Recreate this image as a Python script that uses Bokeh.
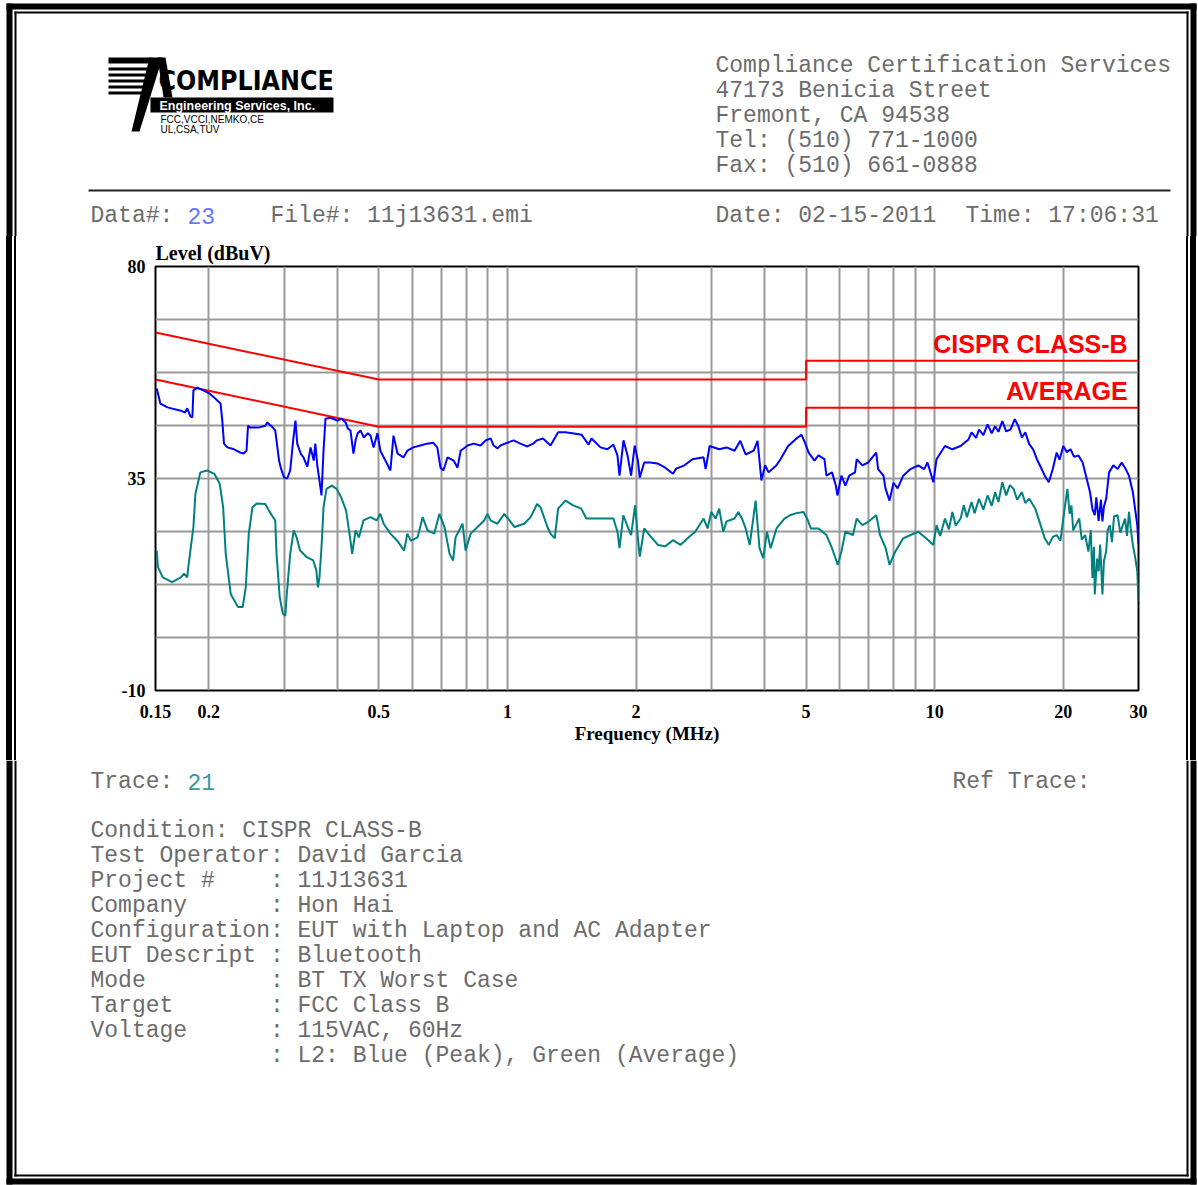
from bokeh.plotting import figure
from bokeh.models import FixedTicker, Label, Range1d, Div
from bokeh.layouts import column, row
from bokeh.core.properties import value
from bokeh.embed import file_html
from bokeh.resources import INLINE

# ---------------- data ----------------
peak_freq_lf = [0.151, 0.154, 0.160, 0.172, 0.176, 0.178, 0.181, 0.183, 0.184, 0.188, 0.194, 0.201, 0.207, 0.213,
                0.215, 0.217, 0.221, 0.229, 0.237, 0.241, 0.245, 0.247, 0.250, 0.261, 0.271, 0.274, 0.281, 0.286,
                0.289, 0.292, 0.295, 0.300, 0.305, 0.310, 0.315, 0.319, 0.322, 0.328, 0.333, 0.340, 0.346, 0.352,
                0.355, 0.359, 0.363, 0.367, 0.371, 0.375, 0.385, 0.400, 0.409, 0.418, 0.423, 0.429, 0.436, 0.441,
                0.446, 0.453, 0.461, 0.471, 0.478, 0.486, 0.496, 0.504, 0.518, 0.532, 0.541, 0.553, 0.571, 0.583,
                0.602, 0.625, 0.649, 0.670, 0.685, 0.697, 0.708, 0.724, 0.748, 0.764, 0.777, 0.807, 0.833, 0.865,
                0.889, 0.913, 0.928, 0.948, 0.963, 1.000, 1.033, 1.072, 1.113, 1.148, 1.172, 1.211, 1.261, 1.314,
                1.367, 1.443, 1.490, 1.518, 1.548, 1.573, 1.651, 1.714, 1.770, 1.809, 1.829, 1.869, 1.910, 1.947,
                1.985, 2.02, 2.04, 2.09, 2.157, 2.244, 2.34, 2.44, 2.483, 2.596, 2.71, 2.878, 2.91, 2.973, 3.13,
                3.257, 3.40, 3.507, 3.61, 3.77, 3.85, 3.93, 4.01, 4.085, 4.263, 4.355, 4.54, 4.72, 4.875, 4.97,
                5.07, 5.23, 5.345, 5.52, 5.58, 5.75, 5.87, 5.92, 6.05, 6.18, 6.31, 6.51, 6.57, 6.77, 6.99, 7.30,
                7.37, 7.59, 7.67, 7.84, 8.01, 8.19, 8.44, 8.78, 9.15, 9.45, 9.62, 9.93]
peak_level_lf = [54.1, 50.9, 50.1, 49.4, 49.0, 49.9, 48.2, 48.0, 53.7, 54.3, 53.7, 53.0, 52.0, 50.9,
                 47.3, 42.4, 41.6, 41.2, 40.5, 40.3, 40.9, 46.2, 45.8, 45.8, 46.2, 46.9, 46.0, 45.2,
                 42.0, 38.8, 37.1, 35.2, 35.0, 36.7, 43.1, 47.3, 42.4, 40.3, 39.5, 37.5, 41.6, 38.8,
                 42.4, 37.5, 34.6, 31.4, 40.9, 47.7, 47.9, 47.3, 47.7, 46.9, 45.6, 45.2, 40.3, 43.1,
                 44.6, 45.2, 43.7, 44.6, 44.1, 41.6, 44.6, 40.9, 38.8, 36.7, 44.1, 40.3, 39.5, 40.9,
                 41.6, 42.0, 42.4, 42.6, 41.6, 37.3, 36.7, 39.5, 38.8, 37.3, 40.9, 42.0, 42.4, 42.0,
                 43.1, 43.5, 42.0, 41.4, 42.0, 42.6, 43.1, 42.4, 41.8, 42.4, 43.1, 43.5, 42.0, 44.8,
                 44.8, 44.5, 44.3, 43.3, 42.2, 43.5, 41.6, 41.2, 42.2, 39.9, 35.6, 43.1, 39.9, 35.6,
                 42.0, 38.8, 35.2, 38.4, 38.4, 38.2, 37.3, 36.0, 37.1, 37.8, 39.1, 39.5, 37.0, 41.9, 41.2,
                 41.6, 40.9, 43.0, 40.1, 40.9, 43.0, 34.6, 37.8, 36.3, 37.8, 39.1, 41.9, 43.3, 44.3, 42.6,
                 40.5, 38.8, 39.9, 39.1, 35.6, 36.3, 33.5, 31.4, 35.6, 33.5, 35.6, 36.3, 39.1, 37.8, 38.4, 40.5,
                 37.0, 35.6, 32.9, 30.3, 34.1, 32.9, 35.6, 37.0, 37.8, 37.0, 38.4, 34.2]
peak_freq_hf = [10.1, 10.57, 11.0, 11.5, 12.0, 12.2, 12.5, 12.7, 13.0, 13.3, 13.6, 13.85, 14.1, 14.4, 14.7,
                15.05, 15.4, 15.7, 16.0, 16.3, 16.65, 17.0, 17.35, 17.7, 18.1, 18.5, 18.9, 19.3, 19.6, 20.0,
                20.4, 20.8, 21.2, 21.7, 22.2, 22.6, 23.1, 23.4, 23.7, 23.9, 24.2, 24.5, 24.7, 24.9, 25.2,
                25.6, 26.2, 26.8, 27.4, 28.0, 28.5, 29.1, 29.8, 30.0]
peak_level_hf = [39.1, 41.9, 41.2, 41.9, 43.3, 44.8, 43.6, 45.4, 44.2, 46.5, 44.6, 46.1, 44.9, 47.2, 45.0,
                 45.4, 47.6, 46.1, 43.7, 44.8, 42.3, 41.2, 39.1, 37.5, 35.6, 34.2, 37.0, 40.5, 39.0, 41.9,
                 40.6, 41.2, 39.6, 39.9, 38.4, 35.6, 32.1, 28.5, 27.2, 31.0, 26.0, 30.5, 25.9, 29.0, 30.7,
                 36.3, 37.8, 37.0, 38.4, 37.0, 35.6, 32.1, 25.1, 21.0]

avg_freq_lf = [0.151, 0.152, 0.156, 0.164, 0.172, 0.175, 0.178, 0.179, 0.184, 0.186, 0.191, 0.198, 0.206, 0.212,
               0.216, 0.219, 0.225, 0.234, 0.240, 0.244, 0.248, 0.253, 0.259, 0.271, 0.278, 0.286, 0.288, 0.293,
               0.298, 0.302, 0.304, 0.310, 0.316, 0.321, 0.327, 0.339, 0.351, 0.357, 0.360, 0.363, 0.367, 0.371,
               0.377, 0.388, 0.398, 0.408, 0.419, 0.429, 0.433, 0.441, 0.449, 0.460, 0.478, 0.494, 0.504, 0.513,
               0.532, 0.552, 0.573, 0.583, 0.594, 0.616, 0.633, 0.650, 0.674, 0.693, 0.712, 0.732, 0.746, 0.756,
               0.785, 0.798, 0.820, 0.851, 0.882, 0.898, 0.913, 0.947, 0.983, 1.011, 1.039, 1.094, 1.133, 1.173,
               1.195, 1.240, 1.261, 1.290, 1.314, 1.367, 1.425, 1.488, 1.530, 1.616, 1.680, 1.770, 1.809, 1.829,
               1.867, 1.905, 1.947, 1.990, 2.02, 2.04, 2.09, 2.15, 2.25, 2.34, 2.44, 2.54, 2.64, 2.75, 2.88, 2.94,
               3.00, 3.07, 3.13, 3.20, 3.257, 3.40, 3.47, 3.54, 3.61, 3.69, 3.81, 3.89, 3.97, 4.05, 4.13, 4.263,
               4.45, 4.59, 4.72, 4.93, 5.03, 5.13, 5.345, 5.58, 5.75, 5.93, 6.05, 6.18, 6.44, 6.57, 6.77, 6.99,
               7.30, 7.45, 7.68, 7.84, 8.09, 8.44, 8.78, 9.15, 9.55, 9.93]
avg_level_lf = [19.7, 16.2, 14.0, 13.0, 14.0, 14.8, 14.0, 16.2, 24.7, 31.7, 36.3, 36.7, 36.0, 33.9,
                28.9, 19.0, 10.5, 7.7, 7.7, 11.9, 23.3, 28.9, 29.7, 29.6, 27.8, 26.1, 19.0, 9.8,
                6.3, 5.9, 9.8, 19.0, 24.0, 22.5, 19.7, 18.3, 17.6, 15.5, 11.9, 14.0, 20.4, 28.9,
                32.8, 33.5, 32.8, 31.0, 28.2, 21.8, 19.0, 24.0, 22.5, 26.1, 26.8, 26.1, 27.5, 25.4,
                23.3, 21.8, 19.7, 23.3, 21.8, 22.5, 26.8, 24.0, 23.3, 27.5, 24.7, 19.0, 17.6, 22.5,
                25.4, 19.7, 23.3, 24.7, 26.1, 27.5, 26.1, 25.4, 27.5, 26.1, 24.7, 25.4, 26.8, 29.6,
                28.9, 24.7, 23.3, 22.3, 28.6, 30.3, 29.3, 28.6, 26.5, 26.5, 26.5, 26.5, 23.7, 20.2,
                27.2, 25.1, 23.0, 29.3, 22.3, 18.4, 24.4, 23.0, 20.9, 20.6, 21.9, 20.9, 22.3, 23.7, 26.5, 24.4,
                27.9, 26.5, 28.6, 23.7, 25.9, 26.5, 27.9, 26.5, 24.4, 20.9, 30.3, 20.2, 18.1, 23.7, 20.2, 24.4,
                26.5, 27.2, 27.6, 27.9, 26.5, 24.4, 24.4, 23.0, 20.2, 16.7, 19.5, 23.7, 23.0, 26.5, 25.1, 25.8,
                27.2, 23.0, 20.2, 16.7, 19.5, 22.3, 23.0, 23.7, 22.3, 20.9]
avg_freq_hf = [10.1, 10.3, 10.57, 10.8, 11.0, 11.2, 11.5, 11.7, 11.9, 12.2, 12.4, 12.7, 13.0, 13.3, 13.6,
               13.85, 14.1, 14.4, 14.7, 15.0, 15.3, 15.6, 16.0, 16.3, 16.65, 17.2, 17.7, 18.1, 18.5, 18.9,
               19.3, 19.7, 20.0, 20.45, 20.7, 20.9, 21.1, 21.4, 21.8, 22.1, 22.5, 22.9, 23.2, 23.4, 23.6,
               23.7, 24.0, 24.2, 24.4, 24.7, 24.9, 25.2, 25.4, 25.7, 26.0, 26.3, 26.8, 27.2, 27.9, 28.2,
               28.5, 28.8, 29.1, 29.5, 29.8, 30.0]
avg_level_hf = [25.1, 22.8, 26.5, 24.2, 27.9, 25.0, 26.5, 29.3, 26.8, 30.0, 27.6, 30.7, 28.4, 31.4, 29.2,
                32.1, 30.0, 34.2, 31.4, 33.6, 32.8, 30.5, 32.1, 29.8, 30.7, 28.6, 25.1, 22.3, 20.9, 22.6,
                23.0, 21.8, 26.5, 32.8, 27.5, 29.3, 24.0, 25.1, 26.5, 22.0, 23.0, 19.5, 24.0, 13.9, 20.5,
                10.4, 18.0, 15.3, 21.0, 10.4, 17.5, 19.5, 24.0, 25.1, 21.5, 27.0, 27.2, 23.5, 26.5, 22.8,
                27.9, 24.0, 20.9, 18.0, 15.3, 9.0]

qp_limit_freq = [0.15, 0.5, 5.0, 5.0, 30.0]
qp_limit_level = [66.0, 56.0, 56.0, 60.0, 60.0]
av_limit_freq = [0.15, 0.5, 5.0, 5.0, 30.0]
av_limit_level = [56.0, 46.0, 46.0, 50.0, 50.0]

x_tick_values = [0.15, 0.2, 0.5, 1, 2, 5, 10, 20, 30]
x_tick_labels = ["0.15", "0.2", "0.5", "1", "2", "5", "10", "20", "30"]
x_grid_values = [0.2, 0.3, 0.4, 0.5, 0.6, 0.7, 0.8, 0.9, 1, 2, 3, 4, 5, 6, 7, 8, 9, 10, 20]
y_tick_values = [-10, 35, 80]
y_tick_labels = ["-10", "35", "80"]
y_grid_values = [-10, 1.25, 12.5, 23.75, 35, 46.25, 57.5, 68.75, 80]

header_lines = ["Compliance Certification Services", "47173 Benicia Street", "Fremont, CA 94538",
                "Tel: (510) 771-1000", "Fax: (510) 661-0888"]
info_keys = ["Condition:", "Test Operator:", "Project #", "Company", "Configuration", "EUT Descript",
             "Mode", "Target", "Voltage", ""]
info_values = ["CISPR CLASS-B", "David Garcia", "11J13631", "Hon Hai", "EUT with Laptop and AC Adapter",
               "Bluetooth", "BT TX Worst Case", "FCC Class B", "115VAC, 60Hz", "L2: Blue (Peak), Green (Average)"]

peak_freq = peak_freq_lf + peak_freq_hf
peak_level = peak_level_lf + peak_level_hf
avg_freq = avg_freq_lf + avg_freq_hf
avg_level = avg_level_lf + avg_level_hf

# ---------------- layout constants (page pixels) ----------------
PW, PH = 1198, 1185
HEAD_H = 236
MAIN_TOP, MAIN_BOT = 236, 760
STRIP_L, STRIP_R = 20, 20
MONO = "Liberation Mono"
GRAY = "#6c6c6c"


def page_fig(w, h, x0, x1, y0, y1):
    f = figure(width=w, height=h, x_range=Range1d(x0, x1), y_range=Range1d(y1, y0),
               output_backend="svg", toolbar_location=None,
               x_axis_location=None, y_axis_location=None, min_border=0)
    f.grid.visible = False
    f.outline_line_color = None
    f.background_fill_color = "white"
    f.border_fill_color = "white"
    return f


def rect(f, l, r, t, b, color="black"):
    f.quad(left=[l], right=[r], top=[t], bottom=[b], fill_color=color, line_color=None)


def txt(f, x, y, s, size="23px", color=GRAY, font=MONO, style="normal", align="left"):
    f.text(x=[x], y=[y], text=[s], text_font=value(font), text_font_size=value(size),
           text_color=color, text_font_style=style, text_align=align, text_baseline="middle")


def side_borders(f, y0, y1, thin_y0, thin_y1):
    rect(f, 6, 12, y0, y1)
    rect(f, 14, 16, thin_y0, thin_y1)
    rect(f, 1190, 1196, y0, y1)
    rect(f, 1186, 1188, thin_y0, thin_y1)


# ---------------- header ----------------
head = page_fig(PW, HEAD_H, 0, PW, 0, HEAD_H)
rect(head, 6, 1196, 3, 9)
rect(head, 14, 1188, 11, 13)
side_borders(head, 3, HEAD_H, 11, HEAD_H)

# logo
for (t, b, r) in [(57, 63, 152), (67, 70, 149), (73, 76, 147), (79, 82, 145), (85, 88, 143), (91, 94, 141)]:
    rect(head, 108, r, t, b)
head.patch([149, 162, 139, 131], [57, 57, 131, 131], fill_color="black", line_color=None)
head.patch([157, 165, 172, 163], [57, 57, 97, 97], fill_color="black", line_color=None)
rect(head, 150, 333, 97, 112)
txt(head, 159, 105, "Engineering Services, Inc.", size="12.5px", color="white", font="Liberation Sans", style="bold")
txt(head, 158, 80, "COMPLIANCE", size="26.5px", color="black",
    font="'Liberation Sans Narrow', 'DejaVu Sans Condensed', sans-serif", style="bold")
txt(head, 160, 119, "FCC,VCCI,NEMKO,CE", size="10px", color="black", font="Liberation Sans")
txt(head, 160, 129, "UL,CSA,TUV", size="10px", color="black", font="Liberation Sans")

for i, s in enumerate(header_lines):
    txt(head, 715, 65 + 25 * i, s)
rect(head, 88, 1170, 189, 191, color="#222222")
txt(head, 90, 215, "Data#:")
txt(head, 187, 215, "23", color="#6478f2")
txt(head, 270, 215, "File#: 11j13631.emi")
txt(head, 715, 215, "Date: 02-15-2011")
txt(head, 965, 215, "Time: 17:06:31")

# ---------------- main chart ----------------
MH = MAIN_BOT - MAIN_TOP
MW = PW - STRIP_L - STRIP_R
p = figure(width=MW, height=MH, x_axis_type="log", x_range=Range1d(0.15, 30), y_range=Range1d(-10, 80),
           output_backend="svg", toolbar_location=None,
           min_border_left=155 - STRIP_L, min_border_right=(PW - STRIP_R) - 1138,
           min_border_top=266 - MAIN_TOP, min_border_bottom=MAIN_BOT - 690)
p.background_fill_color = "white"
p.border_fill_color = "white"
p.outline_line_color = "black"
p.outline_line_width = 2

p.title.text = "Level (dBuV)"
p.title.text_font = "Liberation Serif"
p.title.text_font_style = "bold"
p.title.text_font_size = "20px"
p.title.text_color = "black"
p.title.align = "left"
p.title.standoff = 5

GRID = "#9a9a9a"
p.xgrid.ticker = FixedTicker(ticks=x_grid_values)
p.ygrid.ticker = FixedTicker(ticks=y_grid_values)
for g in (p.xgrid, p.ygrid):
    g.grid_line_color = GRID
    g.grid_line_width = 2
    g.minor_grid_line_color = None

p.xaxis.ticker = FixedTicker(ticks=x_tick_values)
p.xaxis.major_label_overrides = dict(zip(x_tick_values, x_tick_labels))
p.yaxis.ticker = FixedTicker(ticks=y_tick_values)
p.yaxis.major_label_overrides = dict(zip(y_tick_values, y_tick_labels))
for ax in (p.xaxis, p.yaxis):
    ax.axis_line_color = None
    ax.major_tick_line_color = None
    ax.minor_tick_line_color = None
    ax.major_label_text_font = "Liberation Serif"
    ax.major_label_text_font_style = "bold"
    ax.major_label_text_font_size = "18px"
    ax.major_label_text_color = "black"
p.xaxis.major_label_standoff = 8
p.yaxis.major_label_standoff = 4
p.xaxis.axis_label = "Frequency (MHz)"
p.xaxis.axis_label_text_font = "Liberation Serif"
p.xaxis.axis_label_text_font_style = "bold"
p.xaxis.axis_label_text_font_size = "19px"
p.xaxis.axis_label_text_color = "black"
p.xaxis.axis_label_standoff = 2

p.line(av_limit_freq, av_limit_level, line_color="#ff0000", line_width=2)
p.line(qp_limit_freq, qp_limit_level, line_color="#ff0000", line_width=2)
p.line(avg_freq, avg_level, line_color="#008080", line_width=2)
p.line(peak_freq, peak_level, line_color="#0000ff", line_width=2)

p.add_layout(Label(x=28.3, y=60.5, text="CISPR CLASS-B", text_align="right", text_baseline="bottom",
                   text_font="Liberation Sans", text_font_style="bold", text_font_size="25px",
                   text_color="#ff0000"))
p.add_layout(Label(x=28.3, y=50.5, text="AVERAGE", text_align="right", text_baseline="bottom",
                   text_font="Liberation Sans", text_font_style="bold", text_font_size="25px",
                   text_color="#ff0000"))


def strip_div(width, height, bars):
    inner = "".join(
        '<div style="position:absolute;left:%dpx;top:0;width:%dpx;height:%dpx;background:#000"></div>' % (l, w, height)
        for l, w in bars)
    html = '<div style="position:relative;width:%dpx;height:%dpx;overflow:hidden">%s</div>' % (width, height, inner)
    return Div(text=html, width=width, height=height, margin=0)


left_strip = strip_div(STRIP_L, MH, [(6, 6), (14, 2)])
right_strip = strip_div(STRIP_R, MH, [(1190 - (PW - STRIP_R), 6), (1186 - (PW - STRIP_R), 2)])

# ---------------- footer ----------------
foot = page_fig(PW, PH - MAIN_BOT, 0, PW, MAIN_BOT, PH)
side_borders(foot, MAIN_BOT, 1184, MAIN_BOT, 1176)
rect(foot, 6, 1196, 1178, 1184)
rect(foot, 14, 1188, 1174, 1176)

txt(foot, 90, 781, "Trace:")
txt(foot, 187, 781, "21", color="#3a9a9a")
txt(foot, 952, 781, "Ref Trace:")
for i, (k, v) in enumerate(zip(info_keys, info_values)):
    y = 830 + 25 * i
    if i < 2:
        txt(foot, 90, y, k)
        txt(foot, 90 + 13.8 * (len(k) + 1), y, v)
    else:
        if k:
            txt(foot, 90, y, k)
        txt(foot, 269.4, y, ":")
        txt(foot, 297, y, v)

layout = column(head, row(left_strip, p, right_strip), foot)
open("out.html", "w").write(file_html(layout, INLINE))
